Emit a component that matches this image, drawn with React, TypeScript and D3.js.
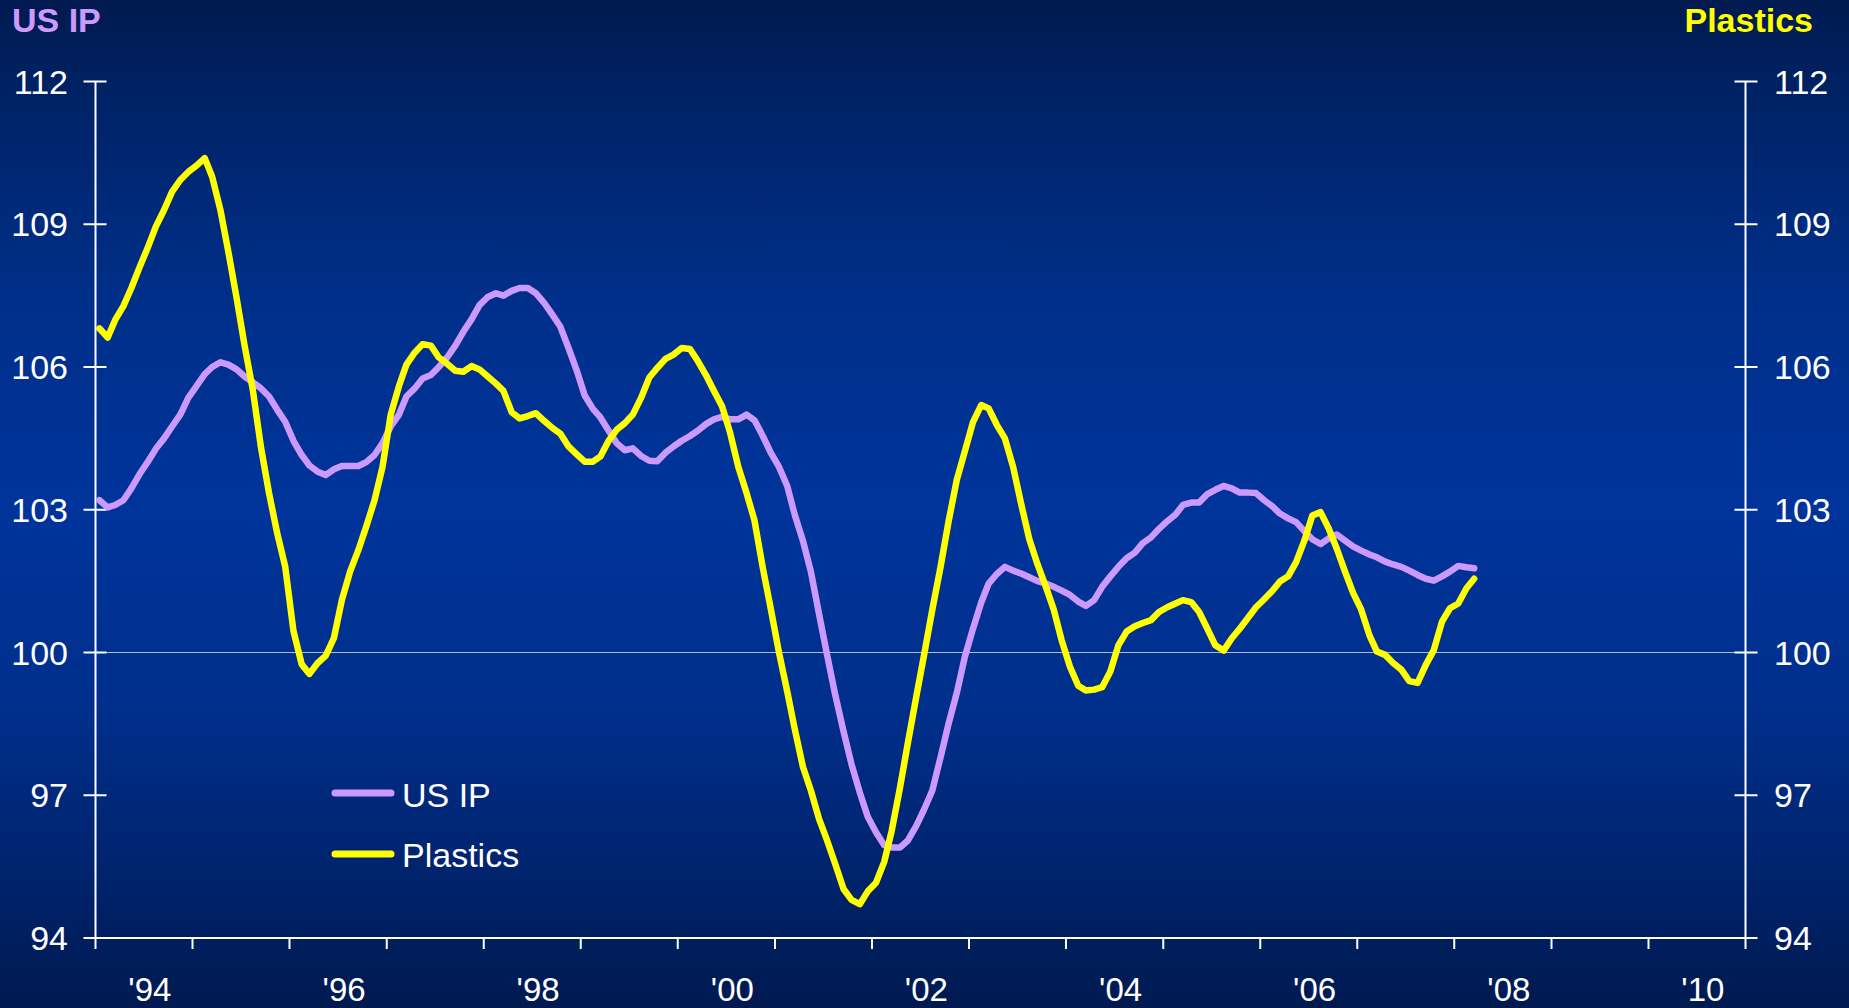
import React from "react";
import * as d3 from "d3";

const W = 1849;
const H = 1008;

// Monthly series starting Jan 1994
const START_YEAR = 1994;
const usIP: number[] = [
  103.2, 103.05, 103.1, 103.2, 103.45, 103.75, 104.0, 104.28, 104.5, 104.75, 105.0, 105.35,
  105.6, 105.85, 106.0, 106.1, 106.05, 105.95, 105.8, 105.68, 105.55, 105.38, 105.1, 104.85,
  104.45, 104.15, 103.93, 103.8, 103.73, 103.85, 103.92, 103.92, 103.92, 104.0, 104.15, 104.4,
  104.75, 105.0, 105.38, 105.55, 105.76, 105.83, 106.0, 106.2, 106.45, 106.74, 107.0, 107.3,
  107.47, 107.55, 107.5, 107.6, 107.66, 107.66, 107.55, 107.35, 107.1, 106.85, 106.4, 105.94,
  105.4, 105.12, 104.94, 104.66, 104.4, 104.25, 104.29, 104.13, 104.03, 104.02, 104.2, 104.33,
  104.45, 104.55, 104.66, 104.8, 104.9, 104.95, 104.9, 104.9, 105.0, 104.88, 104.55, 104.2,
  103.9, 103.5, 102.9, 102.35, 101.7, 100.8, 99.95, 99.1, 98.34, 97.65, 97.06, 96.55,
  96.22, 95.95, 95.9, 95.9, 96.05, 96.35, 96.7, 97.1, 97.8, 98.5, 99.15, 99.9,
  100.5, 101.05, 101.45, 101.65, 101.8, 101.72, 101.66, 101.58, 101.5, 101.45, 101.38, 101.3,
  101.21, 101.07, 100.98, 101.1, 101.38, 101.6, 101.8, 101.98, 102.1, 102.3, 102.42, 102.6,
  102.76, 102.9, 103.1, 103.15, 103.15, 103.33, 103.42, 103.5, 103.45, 103.36, 103.36, 103.35,
  103.2, 103.07, 102.92, 102.82, 102.74, 102.55, 102.38, 102.28, 102.4, 102.48, 102.35, 102.23,
  102.14, 102.06, 102.0, 101.91, 101.85, 101.8, 101.72, 101.63, 101.55, 101.51, 101.6, 101.7,
  101.82, 101.79, 101.77,
];

const plastics: number[] = [
  106.81, 106.62, 106.99, 107.28, 107.66, 108.1, 108.5, 108.95, 109.3, 109.68, 109.93, 110.1,
  110.23, 110.39, 110.0, 109.3, 108.42, 107.45, 106.45, 105.52, 104.3, 103.35, 102.5, 101.8,
  100.45, 99.75, 99.55, 99.78, 99.93, 100.3, 101.1, 101.7, 102.15, 102.65, 103.2, 103.9,
  105.0, 105.6, 106.05, 106.3, 106.48, 106.45, 106.2, 106.07, 105.92, 105.9, 106.02, 105.95,
  105.8, 105.65, 105.5, 105.05, 104.92, 104.97, 105.03, 104.87, 104.72, 104.6, 104.33, 104.17,
  104.01, 104.01, 104.12, 104.45, 104.68, 104.82, 105.0, 105.35, 105.78, 105.98, 106.17, 106.26,
  106.4, 106.38, 106.13, 105.83, 105.5, 105.17, 104.62, 103.9, 103.35, 102.77, 101.78, 100.92,
  100.0, 99.18, 98.4, 97.6, 97.1, 96.5, 96.05, 95.55, 95.03, 94.8, 94.71, 94.98,
  95.16, 95.6, 96.25, 97.15, 98.1, 99.05, 99.95, 100.9, 101.8, 102.75, 103.63, 104.22,
  104.84, 105.2, 105.13, 104.78, 104.5, 103.9, 103.13, 102.38, 101.85, 101.4, 100.9, 100.25,
  99.7, 99.3, 99.2, 99.22, 99.27, 99.6, 100.15, 100.44, 100.55, 100.62, 100.68, 100.85,
  100.95, 101.03, 101.1, 101.06, 100.85, 100.5, 100.15, 100.04, 100.3, 100.5, 100.73, 100.95,
  101.12, 101.3, 101.49, 101.6, 101.9, 102.35, 102.88, 102.95, 102.6, 102.18, 101.7, 101.26,
  100.9, 100.36, 100.02, 99.95, 99.78, 99.64, 99.4, 99.36, 99.74, 100.05, 100.65, 100.93,
  101.03, 101.35, 101.55,
];

const yTicks: number[] = [94, 97, 100, 103, 106, 109, 112];
const yearTicks: number[] = d3.range(1994, 2012);
const yearLabels: { year: number; label: string }[] = [
  { year: 1994, label: "'94" },
  { year: 1996, label: "'96" },
  { year: 1998, label: "'98" },
  { year: 2000, label: "'00" },
  { year: 2002, label: "'02" },
  { year: 2004, label: "'04" },
  { year: 2006, label: "'06" },
  { year: 2008, label: "'08" },
  { year: 2010, label: "'10" },
];

const COLOR_IP = "#CC99FF";
const COLOR_PL = "#FFFF00";
const FONT = "'Liberation Sans', Arial, Helvetica, sans-serif";

export default function App() {
  const left = 95.5;
  const right = 1745.5;
  const top = 81.5;
  const bottom = 938;

  const x = d3
    .scaleTime()
    .domain([new Date(Date.UTC(1994, 0, 1)), new Date(Date.UTC(2011, 0, 1))])
    .range([left, right]);
  const y = d3.scaleLinear().domain([94, 112]).range([bottom, top]);

  const dateOf = (i: number) => new Date(Date.UTC(START_YEAR, i, 16));
  const line = d3
    .line<number>()
    .x((_, i) => x(dateOf(i)))
    .y((d) => y(d));

  const yearX = (yr: number) => x(new Date(Date.UTC(yr, 0, 1)));
  const midYearX = (yr: number) => x(new Date(Date.UTC(yr, 6, 2))) + 6;

  return (
    <svg
      width={W}
      height={H}
      style={{ position: "fixed", left: 0, top: 0, display: "block" }}
      fontFamily={FONT}
    >
      <defs>
        <linearGradient id="bg" x1="0" y1="0" x2="0" y2="1">
          <stop offset="0%" stopColor="#001a4f" />
          <stop offset="12%" stopColor="#00246a" />
          <stop offset="30%" stopColor="#002f8a" />
          <stop offset="50%" stopColor="#00349b" />
          <stop offset="70%" stopColor="#002f8c" />
          <stop offset="88%" stopColor="#00226a" />
          <stop offset="100%" stopColor="#001a50" />
        </linearGradient>
      </defs>
      <rect x={0} y={0} width={W} height={H} fill="url(#bg)" />

      {/* 100 reference line */}
      <line x1={left} x2={right} y1={y(100)} y2={y(100)} stroke="#b8b8c8" strokeWidth={1} />

      {/* Axes */}
      <line x1={left} x2={left} y1={top} y2={bottom} stroke="#fff" strokeWidth={2} />
      <line x1={right} x2={right} y1={top} y2={bottom} stroke="#fff" strokeWidth={2} />
      <line x1={left} x2={right} y1={bottom} y2={bottom} stroke="#fff" strokeWidth={2} />

      {yTicks.map((t) => (
        <g key={"yt" + t}>
          <line x1={left - 12} x2={left + 11} y1={y(t)} y2={y(t)} stroke="#fff" strokeWidth={2} />
          <line x1={right - 11} x2={right + 12} y1={y(t)} y2={y(t)} stroke="#fff" strokeWidth={2} />
          <text x={68} y={y(t) + 12} textAnchor="end" fontSize={34} fill="#fff">
            {t}
          </text>
          <text x={1774} y={y(t) + 12} textAnchor="start" fontSize={34} fill="#fff">
            {t}
          </text>
        </g>
      ))}

      {yearTicks.map((yr) => (
        <line
          key={"xt" + yr}
          x1={yearX(yr)}
          x2={yearX(yr)}
          y1={bottom}
          y2={bottom + 11}
          stroke="#fff"
          strokeWidth={2}
        />
      ))}
      {yearLabels.map((d) => (
        <text
          key={"xl" + d.year}
          x={midYearX(d.year)}
          y={1001}
          textAnchor="middle"
          fontSize={33}
          fill="#fff"
        >
          {d.label}
        </text>
      ))}

      {/* Series */}
      <path
        d={line(usIP) || ""}
        fill="none"
        stroke={COLOR_IP}
        strokeWidth={6.5}
        strokeLinejoin="round"
        strokeLinecap="round"
      />
      <path
        d={line(plastics) || ""}
        fill="none"
        stroke={COLOR_PL}
        strokeWidth={6.5}
        strokeLinejoin="round"
        strokeLinecap="round"
      />

      {/* Axis titles */}
      <text x={12} y={32} fontSize={34} fontWeight="bold" fill={COLOR_IP}>
        US IP
      </text>
      <text x={1813} y={32} fontSize={34} fontWeight="bold" fill={COLOR_PL} textAnchor="end">
        Plastics
      </text>

      {/* Legend */}
      <line x1={335} x2={391} y1={793} y2={793} stroke={COLOR_IP} strokeWidth={7} strokeLinecap="round" />
      <text x={402} y={807} fontSize={34} fill="#fff">
        US IP
      </text>
      <line x1={335} x2={391} y1={854} y2={854} stroke={COLOR_PL} strokeWidth={7} strokeLinecap="round" />
      <text x={402} y={867} fontSize={34} fill="#fff">
        Plastics
      </text>
    </svg>
  );
}
